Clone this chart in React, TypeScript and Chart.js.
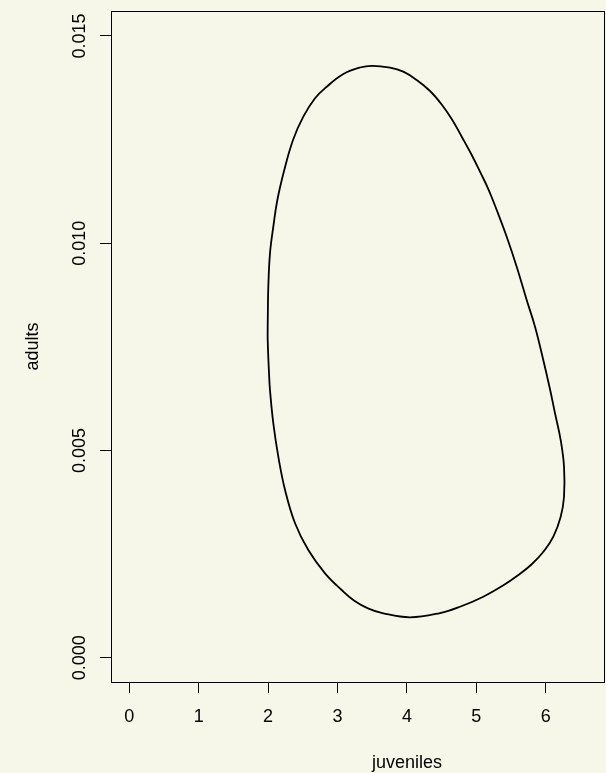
import React, { useEffect, useRef } from "react";
import { Chart, registerables } from "chart.js";

Chart.register(...registerables);

// Closed trajectory (juveniles vs adults)
const juveniles = [
  1.994, 2.003, 2.027, 2.075, 2.133, 2.233, 2.359, 2.507, 2.676, 2.844,
  3.084, 3.324, 3.497, 3.756, 3.948, 4.141, 4.333, 4.501, 4.650, 4.790,
  4.934, 5.053, 5.173, 5.294, 5.438, 5.582, 5.726, 5.846, 5.965, 6.062,
  6.134, 6.216, 6.264, 6.264, 6.216, 6.110, 5.976, 5.795, 5.586, 5.385,
  5.101, 4.765, 4.477, 4.045, 3.660, 3.439, 3.242, 3.061, 2.820, 2.579,
  2.388, 2.244, 2.147, 2.075, 2.027, 2.013, 1.994, 1.994,
];
const adults = [
  0.008027, 0.008951, 0.009757, 0.010399, 0.011043, 0.011767, 0.012491, 0.013053, 0.013497, 0.013776,
  0.014083, 0.014240, 0.014281, 0.014235, 0.014139, 0.013938, 0.013673, 0.013347, 0.012985, 0.012570,
  0.012129, 0.011726, 0.011308, 0.010802, 0.010157, 0.009434, 0.008630, 0.007986, 0.007183, 0.006476,
  0.005897, 0.005252, 0.004608, 0.003884, 0.003402, 0.002919, 0.002574, 0.002249, 0.001971, 0.001742,
  0.001472, 0.001230, 0.001078, 0.000975, 0.001071, 0.001192, 0.001375, 0.001633, 0.002036, 0.002598,
  0.003243, 0.004046, 0.004850, 0.005655, 0.006459, 0.006862, 0.007665, 0.008027,
];

const xTicks = [0, 1, 2, 3, 4, 5, 6];
const yTicks = [0, 0.005, 0.01, 0.015];
const yTickLabels = ["0.000", "0.005", "0.010", "0.015"];
const xLabel = "juveniles";
const yLabel = "adults";

const BG = "#f7f7e9";
const FONT = "'Liberation Sans', Arial, Helvetica, sans-serif";

export default function App() {
  const ref = useRef<HTMLCanvasElement | null>(null);

  useEffect(() => {
    const canvas = ref.current;
    if (!canvas) return;

    const rPlugin = {
      id: "rstyle",
      beforeDraw(chart: any) {
        const ctx = chart.ctx;
        ctx.save();
        ctx.fillStyle = BG;
        ctx.fillRect(0, 0, chart.width, chart.height);
        ctx.restore();
      },
      afterDraw(chart: any) {
        const ctx = chart.ctx;
        const a = chart.chartArea;
        ctx.save();
        ctx.strokeStyle = "#000";
        ctx.lineWidth = 1;
        const l = Math.round(a.left) + 0.5;
        const t = Math.round(a.top) + 0.5;
        const r = Math.round(a.right) + 0.5;
        const b = Math.round(a.bottom) + 0.5;
        ctx.strokeRect(l, t, r - l, b - t);

        // rotated y tick labels
        const ys = chart.scales.y;
        ctx.fillStyle = "#000";
        ctx.font = `18px ${FONT}`;
        ctx.textAlign = "center";
        ctx.textBaseline = "alphabetic";
        yTicks.forEach((v, i) => {
          const py = ys.getPixelForValue(v);
          ctx.save();
          ctx.translate(85, py);
          ctx.rotate(-Math.PI / 2);
          ctx.fillText(yTickLabels[i], 0, 0);
          ctx.restore();
        });

        // x axis title (centered under tick 4 as in reference)
        const xs = chart.scales.x;
        ctx.textAlign = "center";
        ctx.textBaseline = "alphabetic";
        ctx.fillText(xLabel, xs.getPixelForValue(4), 768);
        ctx.restore();
      },
    };

    const chart = new Chart(canvas, {
      type: "scatter",
      data: {
        datasets: [
          {
            data: juveniles.map((x, i) => ({ x, y: adults[i] })),
            showLine: true,
            borderColor: "#000",
            borderWidth: 1.8,
            pointRadius: 0,
            tension: 0.4,
            fill: false,
          },
        ],
      },
      options: {
        responsive: false,
        animation: false,
        events: [],
        layout: { padding: { left: 0, right: 2, top: 11, bottom: 0 } },
        plugins: {
          legend: { display: false },
          tooltip: { enabled: false },
          title: { display: false },
        },
        scales: {
          x: {
            type: "linear",
            min: -0.264,
            max: 6.84,
            afterBuildTicks: (s: any) => {
              s.ticks = xTicks.map((v) => ({ value: v }));
            },
            afterFit: (s: any) => {
              s.height = 91;
            },
            border: { display: false },
            grid: {
              drawOnChartArea: false,
              drawTicks: true,
              tickLength: 11,
              tickColor: "#000",
              lineWidth: 1,
            },
            ticks: {
              color: "#000",
              font: { family: FONT, size: 18 },
              padding: 13,
              maxRotation: 0,
              callback: (v: any) => String(v),
            },
            title: { display: false },
          },
          y: {
            type: "linear",
            min: -0.000586,
            max: 0.015603,
            afterBuildTicks: (s: any) => {
              s.ticks = yTicks.map((v) => ({ value: v }));
            },
            afterFit: (s: any) => {
              s.width = 111;
            },
            border: { display: false },
            grid: {
              drawOnChartArea: false,
              drawTicks: true,
              tickLength: 11,
              tickColor: "#000",
              lineWidth: 1,
            },
            ticks: { display: false },
            title: {
              display: true,
              text: yLabel,
              color: "#000",
              font: { family: FONT, size: 18 },
              padding: { top: 22, bottom: 0 },
            },
          },
        },
      },
      plugins: [rPlugin],
    } as any);

    return () => chart.destroy();
  }, []);

  return (
    <div style={{ position: "fixed", left: 0, top: 0, width: 606, height: 773, background: BG }}>
      <canvas ref={ref} width={606} height={773} style={{ display: "block" }} />
    </div>
  );
}
